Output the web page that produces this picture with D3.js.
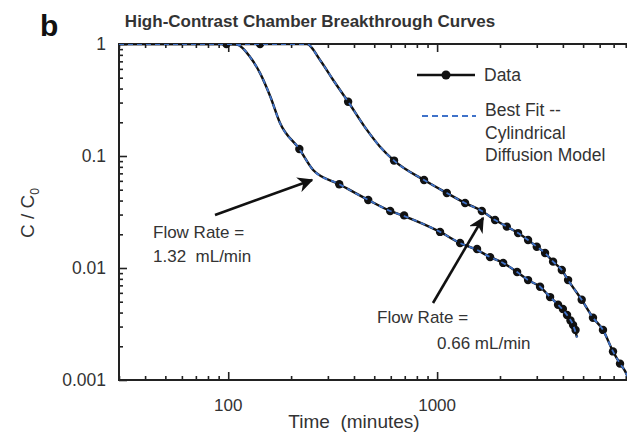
<!DOCTYPE html>
<html>
<head>
<meta charset="utf-8">
<script src="https://cdn.jsdelivr.net/npm/d3@7"></script>
<style>
  body { margin: 0; background: #fff; }
  svg { display: block; font-family: "Liberation Sans", Arial, sans-serif; }
</style>
</head>
<body>
<script>
(function () {
    "use strict";

    // fit curve, 1.32 mL/min
    var fitFastT = [30, 98, 110, 127, 142, 159, 177, 219, 255, 340, 468, 596, 695, 1033, 1288, 1553, 1794, 2071, 2415, 2725, 3110, 3474, 3793, 4188, 4476, 4677];
    var fitFastC = [1, 1, 0.99, 0.77, 0.55, 0.34, 0.197, 0.1155, 0.075, 0.056, 0.0405, 0.0323, 0.0291, 0.021, 0.0167, 0.0145, 0.0125, 0.0111, 0.0092, 0.0078, 0.0068, 0.0055, 0.0047, 0.0038, 0.0031, 0.0024];
    // measured points, 1.32 mL/min
    var dataFastT = [98, 219, 340, 468, 596, 695, 1033, 1288, 1553, 1794, 2071, 2415, 2725, 3110, 3474, 3793, 4000, 4188, 4350, 4476, 4600];
    var dataFastC = [1, 0.1155, 0.056, 0.0405, 0.0323, 0.0295, 0.021, 0.0167, 0.0148, 0.0125, 0.0111, 0.0092, 0.0078, 0.0068, 0.0055, 0.0047, 0.0043, 0.0038, 0.0034, 0.0031, 0.0028];

    // fit curve, 0.66 mL/min
    var fitSlowT = [30, 238, 275, 318, 375, 461, 533, 622, 866, 1113, 1361, 1637, 1894, 2156, 2441, 2725, 2999, 3287, 3591, 3953, 4237, 4923, 5574, 6223, 6950, 7510, 7940, 8300];
    var fitSlowC = [1, 1, 0.72, 0.477, 0.305, 0.171, 0.121, 0.091, 0.061, 0.0467, 0.038, 0.0323, 0.0268, 0.0234, 0.0205, 0.0178, 0.0155, 0.0136, 0.0114, 0.0096, 0.0078, 0.0052, 0.0036, 0.0028, 0.0018, 0.0014, 0.0012, 0.001];
    // measured points, 0.66 mL/min
    var dataSlowT = [142, 375, 622, 866, 1113, 1361, 1637, 1894, 2156, 2441, 2725, 2999, 3287, 3591, 3953, 4237, 4923, 5574, 6223, 6950, 7510];
    var dataSlowC = [1, 0.305, 0.091, 0.061, 0.0467, 0.038, 0.0323, 0.0268, 0.0234, 0.0205, 0.0178, 0.0155, 0.0136, 0.0114, 0.0096, 0.0078, 0.0052, 0.0036, 0.0028, 0.0018, 0.0014];

    var xMajor = [100, 1000];
    var yMajor = [0.001, 0.01, 0.1, 1];
    var yLabels = ["0.001", "0.01", "0.1", "1"];

    var width = 627, height = 432;
    var margin = {top: 44, left: 119, bottom: 380};

    var svg = d3.select("body").append("svg")
        .attr("width", width)
        .attr("height", height);

    var x = d3.scaleLog().domain([30, 10000]).range([margin.left, 646]);
    var y = d3.scaleLog().domain([0.001, 1]).range([margin.bottom, margin.top]);

    // minor ticks: 2..9 of each decade
    var xMinor = [];
    [10, 100, 1000].forEach(function (d) {
        for (var k = 2; k < 10; k++) {
            if (d * k >= 30) xMinor.push(d * k);
        }
    });
    var yMinor = [];
    [0.001, 0.01, 0.1].forEach(function (d) {
        for (var k = 2; k < 10; k++) yMinor.push(d * k);
    });

    var axisColor = "#222";
    var textColor = "#333";

    var defs = svg.append("defs");
    defs.append("clipPath").attr("id", "clipBox")
        .append("rect")
        .attr("x", margin.left).attr("y", margin.top)
        .attr("width", 646 - margin.left).attr("height", margin.bottom - margin.top);

    defs.append("marker")
        .attr("id", "arrow")
        .attr("viewBox", "0 0 10 10")
        .attr("refX", 9).attr("refY", 5)
        .attr("markerWidth", 6).attr("markerHeight", 6)
        .attr("orient", "auto")
        .append("path")
        .attr("d", "M0,0 L10,5 L0,10 L3,5 Z")
        .attr("fill", "#111");

    // axes, ticks pointing inward
    function drawAxis(axisFn, scale, values, size, transform) {
        var g = svg.append("g")
            .attr("transform", transform)
            .call(axisFn(scale).tickValues(values).tickSize(size).tickFormat(""));
        g.select(".domain").remove();
        g.selectAll(".tick line").attr("stroke", axisColor).attr("stroke-width", 1.6);
        return g;
    }

    drawAxis(d3.axisBottom, x, xMinor, -4, "translate(0," + margin.bottom + ")");
    drawAxis(d3.axisBottom, x, xMajor, -8, "translate(0," + margin.bottom + ")");
    drawAxis(d3.axisTop, x, xMinor, -4, "translate(0," + margin.top + ")");
    drawAxis(d3.axisTop, x, xMajor, -8, "translate(0," + margin.top + ")");
    drawAxis(d3.axisLeft, y, yMinor, -4, "translate(" + margin.left + ",0)");
    drawAxis(d3.axisLeft, y, yMajor, -8, "translate(" + margin.left + ",0)");

    // frame
    svg.append("path")
        .attr("d", "M" + width + "," + margin.top + " H" + margin.left + " V" + margin.bottom + " H" + width)
        .attr("fill", "none")
        .attr("stroke", axisColor)
        .attr("stroke-width", 2);

    // tick labels
    svg.append("g").selectAll("text")
        .data(xMajor)
        .join("text")
        .attr("x", function (d) { return x(d); })
        .attr("y", 411)
        .attr("text-anchor", "middle")
        .attr("font-size", 17)
        .attr("fill", textColor)
        .text(function (d) { return d; });

    svg.append("g").selectAll("text")
        .data(yMajor)
        .join("text")
        .attr("x", 106)
        .attr("y", function (d) { return y(d) + 6; })
        .attr("text-anchor", "end")
        .attr("font-size", 17.5)
        .attr("fill", textColor)
        .text(function (d, i) { return yLabels[i]; });

    // axis titles
    svg.append("text")
        .attr("x", 354).attr("y", 428)
        .attr("text-anchor", "middle")
        .attr("font-size", 19)
        .attr("fill", textColor)
        .attr("xml:space", "preserve")
        .text("Time  (minutes)");

    var yTitle = svg.append("text")
        .attr("transform", "translate(34,213) rotate(-90)")
        .attr("text-anchor", "middle")
        .attr("font-size", 19)
        .attr("fill", textColor);
    yTitle.append("tspan").text("C / C");
    yTitle.append("tspan").attr("font-size", 12).attr("dy", 5).text("0");

    svg.append("text")
        .attr("x", 310).attr("y", 27)
        .attr("text-anchor", "middle")
        .attr("font-size", 17)
        .attr("font-weight", "bold")
        .attr("fill", textColor)
        .text("High-Contrast Chamber Breakthrough Curves");

    svg.append("text")
        .attr("x", 40).attr("y", 36)
        .attr("font-size", 30)
        .attr("font-weight", "bold")
        .attr("fill", "#111")
        .text("b");

    // curves
    var line = d3.line()
        .x(function (d) { return x(d[0]); })
        .y(function (d) { return y(d[1]); })
        .curve(d3.curveMonotoneX);

    var plotArea = svg.append("g").attr("clip-path", "url(#clipBox)");

    function series(ts, cs) {
        return ts.map(function (t, i) { return [t, cs[i]]; });
    }

    var fits = [series(fitFastT, fitFastC), series(fitSlowT, fitSlowC)];
    var points = [series(dataFastT, dataFastC), series(dataSlowT, dataSlowC)];

    fits.forEach(function (s) {
        plotArea.append("path")
            .attr("d", line(s))
            .attr("fill", "none")
            .attr("stroke", "#111")
            .attr("stroke-width", 2.4);
    });
    points.forEach(function (s) {
        plotArea.append("g").selectAll("circle")
            .data(s)
            .join("circle")
            .attr("cx", function (d) { return x(d[0]); })
            .attr("cy", function (d) { return y(d[1]); })
            .attr("r", 4.2)
            .attr("fill", "#111");
    });
    fits.forEach(function (s) {
        plotArea.append("path")
            .attr("d", line(s))
            .attr("fill", "none")
            .attr("stroke", "#3f72c9")
            .attr("stroke-width", 1.8)
            .attr("stroke-dasharray", "5,4");
    });

    // legend
    var legend = svg.append("g");
    legend.append("line")
        .attr("x1", 417).attr("x2", 475).attr("y1", 75).attr("y2", 75)
        .attr("stroke", "#111").attr("stroke-width", 2.4);
    legend.append("circle")
        .attr("cx", 446).attr("cy", 75).attr("r", 4.5).attr("fill", "#111");
    legend.append("text")
        .attr("x", 484).attr("y", 81)
        .attr("font-size", 17.5).attr("fill", textColor)
        .text("Data");
    legend.append("line")
        .attr("x1", 422).attr("x2", 476).attr("y1", 116).attr("y2", 116)
        .attr("stroke", "#3f72c9").attr("stroke-width", 2)
        .attr("stroke-dasharray", "6,4");
    ["Best Fit --", "Cylindrical", "Diffusion Model"].forEach(function (s, i) {
        legend.append("text")
            .attr("x", 485).attr("y", 116 + i * 22.5)
            .attr("font-size", 17.5).attr("fill", textColor)
            .text(s);
    });

    // annotations
    function note(lines, xs, ys, arrow) {
        lines.forEach(function (s, i) {
            svg.append("text")
                .attr("x", xs[i]).attr("y", ys[i])
                .attr("font-size", 17).attr("fill", textColor)
                .attr("xml:space", "preserve")
                .text(s);
        });
        svg.append("line")
            .attr("x1", arrow[0]).attr("y1", arrow[1])
            .attr("x2", arrow[2]).attr("y2", arrow[3])
            .attr("stroke", "#111").attr("stroke-width", 2.6)
            .attr("marker-end", "url(#arrow)");
    }
    note(["Flow Rate =", "1.32  mL/min"], [153, 153], [238, 262], [215, 215, 312, 180]);
    note(["Flow Rate =", "0.66 mL/min"], [377, 437], [323, 349], [433, 303, 483, 218]);
})();
</script>
</body>
</html>
